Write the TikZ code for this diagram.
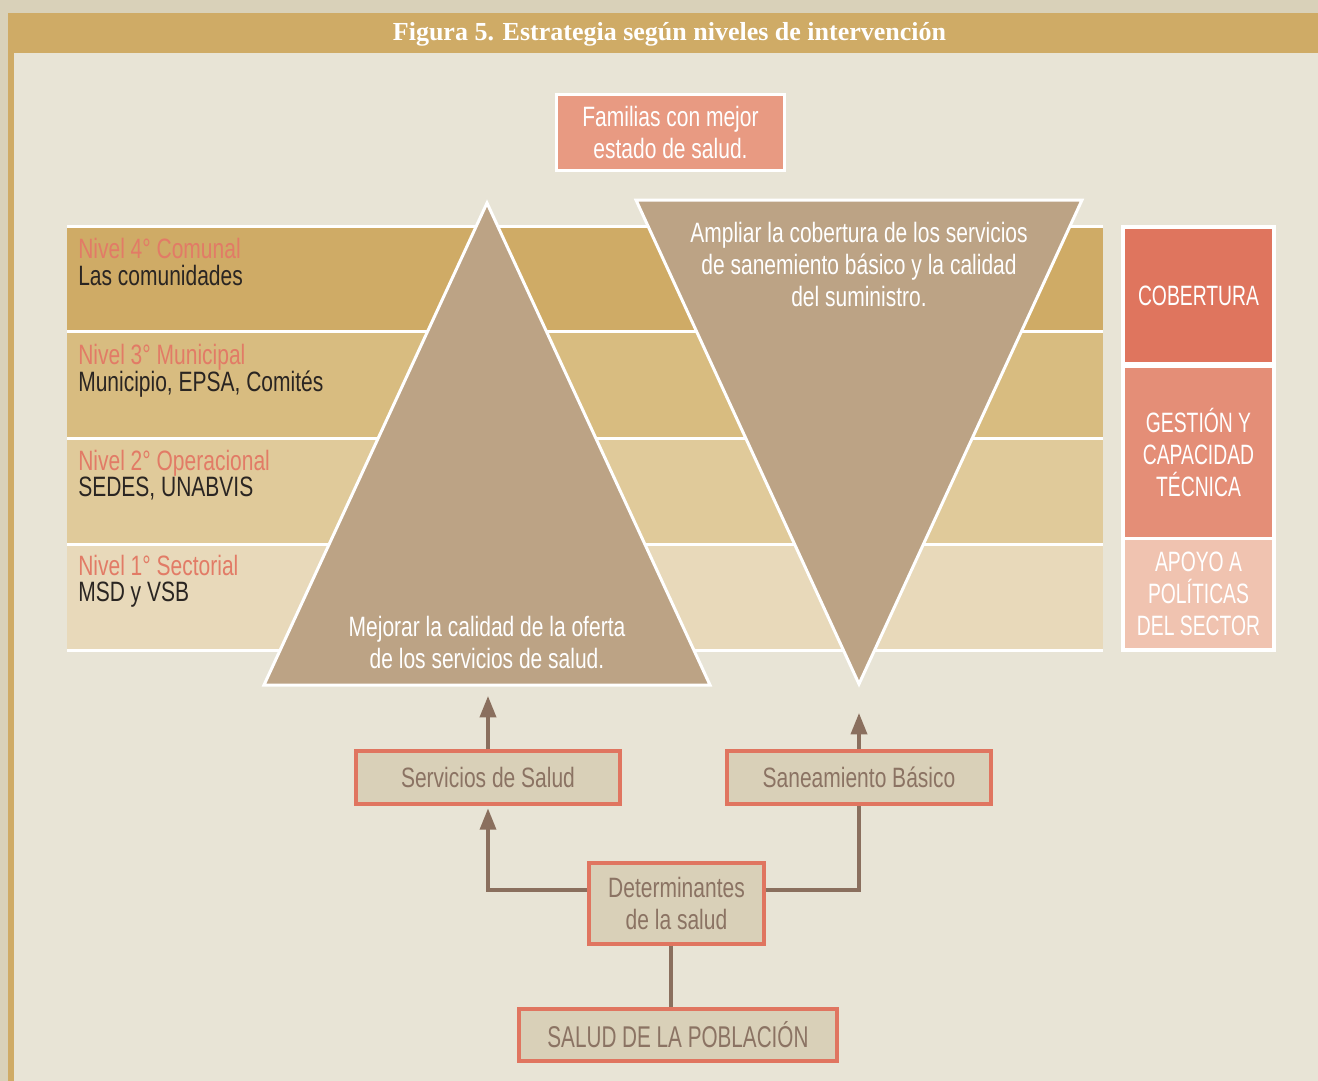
\documentclass[tikz,border=0pt]{standalone}
\usepackage{fontspec}
\newfontfamily\condfont{Liberation Sans}[FakeStretch=0.75]
\newfontfamily\capsfont{Liberation Sans}[FakeStretch=0.69]
\newfontfamily\titlefont{Liberation Serif}
\usetikzlibrary{arrows.meta}

\definecolor{pagebg}{HTML}{D9D1B9}
\definecolor{gold}{HTML}{CFAB66}
\definecolor{panel}{HTML}{E8E4D6}
\definecolor{bandA}{HTML}{CFAB66}
\definecolor{bandB}{HTML}{D8BC80}
\definecolor{bandC}{HTML}{E0CA9A}
\definecolor{bandD}{HTML}{E8D9BA}
\definecolor{trifill}{HTML}{BCA385}
\definecolor{coral}{HTML}{E27B66}
\definecolor{darktext}{HTML}{2A2522}
\definecolor{boxfill}{HTML}{D9D0B8}
\definecolor{boxedge}{HTML}{E07560}
\definecolor{boxtext}{HTML}{8B7363}
\definecolor{arrowcol}{HTML}{8A6F5E}
\definecolor{cobcol}{HTML}{DF755E}
\definecolor{gestcol}{HTML}{E48E77}
\definecolor{apoyocol}{HTML}{F0C3B0}
\definecolor{famcol}{HTML}{E89A82}

\newcommand\txtsize{\fontsize{21}{24}\selectfont}

\begin{document}
\begin{tikzpicture}[x=0.75pt,y=-0.75pt,
  lvl/.style={anchor=base west, inner sep=0pt, font=\condfont\txtsize, text=coral},
  lvlsub/.style={anchor=base west, inner sep=0pt, font=\condfont\txtsize, text=darktext},
  sep/.style={white, line width=2.25pt},
  tri/.style={fill=trifill, draw=white, line width=2.25pt, line join=miter},
  tritext/.style={align=center, inner sep=0pt, font=\condfont\txtsize, text=white},
  sidebox/.style={fill=#1, inner sep=0pt, minimum width=110.25pt, align=center,
    font=\capsfont\txtsize, text=white},
  flowbox/.style={draw=boxedge, fill=boxfill, line width=2.6pt, inner sep=0pt,
    align=center, font=\condfont\txtsize, text=boxtext},
  arr/.style={draw=arrowcol, line width=2.7pt, -{Triangle[width=12pt,length=16pt]}},
  link/.style={draw=arrowcol, line width=2.7pt}
]
\useasboundingbox (0,0) rectangle (1318,1081);

% page, title bar and panel
\fill[pagebg] (0,0) rectangle (1318,1081);
\fill[gold] (8,13) rectangle (1318,53);
\fill[gold] (8,13) rectangle (14,1081);
\fill[panel] (14,53) rectangle (1318,1081);
\node[anchor=base, inner sep=0pt, text=white,
      font=\titlefont\bfseries\fontsize{19.5}{22}\selectfont]
  (title) at (669.5,41) {Figura 5. Estrategia según niveles de intervención};

% level bands
\fill[bandA] (67,227) rectangle (1103,331);
\fill[bandB] (67,331) rectangle (1103,438);
\fill[bandC] (67,438) rectangle (1103,545);
\fill[bandD] (67,545) rectangle (1103,650);
\foreach \yy in {226.5,331.5,438.5,544.5,650.5}
  \draw[sep] (67,\yy) -- (1103,\yy);

% level labels
\node[lvl] (n4) at (78,258) {Nivel 4° Comunal};
\node[lvlsub] (n4s) at (78,285) {Las comunidades};
\node[lvl] (n3) at (78,364) {Nivel 3° Municipal};
\node[lvlsub] (n3s) at (78,391) {Municipio, EPSA, Comités};
\node[lvl] (n2) at (78,470) {Nivel 2° Operacional};
\node[lvlsub] (n2s) at (78,496) {SEDES, UNABVIS};
\node[lvl] (n1) at (78,575) {Nivel 1° Sectorial};
\node[lvlsub] (n1s) at (78,601) {MSD y VSB};

% strategy triangles
\draw[tri] (487,203) -- (710,685) -- (264,685) -- cycle;
\draw[tri] (636,200) -- (1082,200) -- (859,684) -- cycle;
\node[tritext] (mejorar) at (487,642)
  {Mejorar la calidad de la oferta\\de los servicios de salud.};
\node[tritext] (ampliar) at (859,264)
  {Ampliar la cobertura de los servicios\\de sanemiento básico y la calidad\\del suministro.};

% goal box
\node[draw=white, fill=famcol, line width=2.25pt, inner sep=0pt,
      minimum width=171pt, minimum height=57pt, align=center,
      font=\condfont\txtsize, text=white]
  (familias) at (670.5,132.5) {Familias con mejor\\estado de salud.};

% side column
\fill[white] (1121,225) rectangle (1276,652);
\node[sidebox=cobcol, minimum height=99.75pt] (cob) at (1198.5,295.5) {COBERTURA};
\node[sidebox=gestcol, minimum height=126.75pt] (gest) at (1198.5,452)
  {GESTIÓN Y\\CAPACIDAD\\TÉCNICA};
\node[sidebox=apoyocol, minimum height=81pt] (apoyo) at (1198.5,594)
  {APOYO A\\POLÍTICAS\\DEL SECTOR};

% flow boxes
\node[flowbox, minimum width=198pt, minimum height=39.75pt] (serv) at (488,777.5)
  {Servicios de Salud};
\node[flowbox, minimum width=198pt, minimum height=39.75pt] (san) at (859,777.5)
  {Saneamiento Básico};
\node[flowbox, minimum width=131pt, minimum height=60.75pt] (det) at (676.5,903.5)
  {Determinantes\\de la salud};
\node[flowbox, minimum width=238.5pt, minimum height=39pt,
      font=\capsfont\fontsize{22.5}{24}\selectfont]
  (salud) at (678,1035) {SALUD DE LA POBLACIÓN};

% connectors
\coordinate (servtip) at (488,696);
\coordinate (santip) at (859,713);
\draw[arr] (serv.north) -- (servtip);
\draw[arr] (san.north) -- (santip);
\draw[arr] (det.west |- 0,890) -| ([yshift=-2pt]serv.south);
\draw[link] (det.east |- 0,890) -| (san.south);
\draw[link] (671,0 |- det.south) -- (671,0 |- salud.north);
\end{tikzpicture}
\end{document}
